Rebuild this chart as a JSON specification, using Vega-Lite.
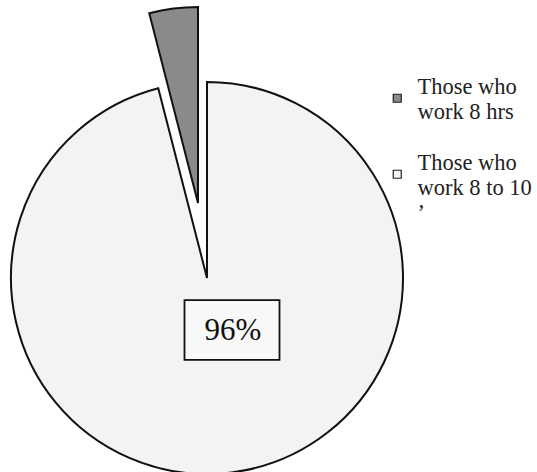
{
  "$schema": "https://vega.github.io/schema/vega-lite/v6.json",
  "width": 537,
  "height": 472,
  "autosize": {"type": "fit", "contains": "padding"},
  "padding": 0,
  "background": "white",
  "config": {"view": {"stroke": null}},
  "data": {"values": [
    {"group": "Those who work 8 to 10 hrs", "share": 96, "label": "96%"},
    {"group": "Those who work 8 hrs", "share": 4, "label": "4%"}
  ]},
  "layer": [
    {
      "mark": {"type": "arc", "outerRadius": 196, "x": 207, "y": 278, "stroke": "#111", "strokeWidth": 2, "strokeJoin": "miter"},
      "encoding": {
        "theta": {"field": "share", "type": "quantitative", "stack": true},
        "order": {"field": "share", "type": "quantitative", "sort": "descending"},
        "color": {
          "field": "group", "type": "nominal",
          "scale": {"domain": ["Those who work 8 hrs", "Those who work 8 to 10 hrs"], "range": ["#8a8a8a", "#f3f3f3"]},
          "legend": {
            "title": null, "orient": "none", "legendX": 386, "legendY": 87,
            "labelFont": "Liberation Serif", "labelFontSize": 22.5, "labelColor": "#222",
            "symbolType": "square", "symbolSize": 64, "symbolStrokeColor": "#222", "symbolStrokeWidth": 1.2,
            "symbolOpacity": 1, "labelLimit": 0, "rowPadding": 28, "labelOffset": 9,
            "labelExpr": "datum.label == 'Those who work 8 hrs' ? ['Those who', 'work 8 hrs'] : ['Those who', 'work 8 to 10', '\u2019']",
            "encode": {"labels": {"update": {"lineHeight": {"value": 25}, "dy": {"value": -11}}}}
          }
        },
        "opacity": {"condition": {"test": "datum.share < 50", "value": 0}, "value": 1}
      }
    },
    {
      "mark": {"type": "arc", "outerRadius": 196, "x": 198, "y": 203, "stroke": "#111", "strokeWidth": 2, "strokeJoin": "miter"},
      "encoding": {
        "theta": {"field": "share", "type": "quantitative", "stack": true},
        "order": {"field": "share", "type": "quantitative", "sort": "descending"},
        "color": {"field": "group", "type": "nominal"},
        "opacity": {"condition": {"test": "datum.share < 50", "value": 1}, "value": 0}
      }
    },
    {
      "transform": [{"filter": "datum.share > 50"}],
      "mark": {"type": "point", "shape": "M-1,-0.63L1,-0.63L1,0.63L-1,0.63Z", "x": 232, "y": 330, "size": 9025, "filled": true, "fill": "#f8f8f8", "stroke": "#111", "strokeWidth": 1.8, "opacity": 1},
      "encoding": {}
    },
    {
      "transform": [{"filter": "datum.share > 50"}],
      "mark": {"type": "text", "x": 233, "y": 331, "font": "Liberation Serif", "fontSize": 31, "color": "#111", "baseline": "middle", "align": "center"},
      "encoding": {"text": {"field": "label"}}
    }
  ]
}
